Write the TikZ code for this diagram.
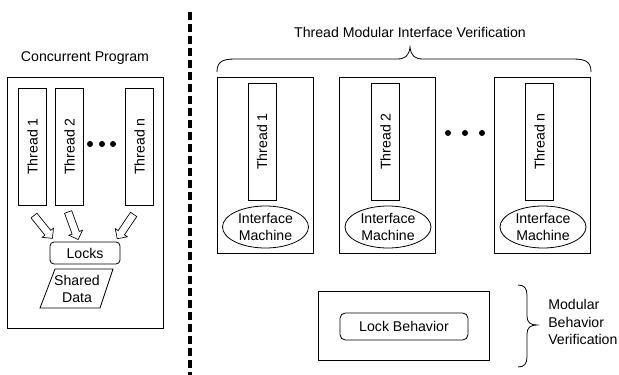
\documentclass[tikz,border=0pt]{standalone}
\usepackage{fontspec}
\setmainfont{Liberation Sans}
\usetikzlibrary{shapes.arrows,shapes.geometric,calc}
\begin{document}
\begin{tikzpicture}[x=0.75pt,y=-0.75pt,
  every node/.style={font=\fontsize{10.6}{13.3}\selectfont},
  box/.style={draw,line width=0.6pt,inner sep=0pt,rectangle},
  threadbox/.style={box,minimum width=20.5pt,minimum height=87.75pt},
  lbl/.style={inner sep=0pt},
  dotc/.style={fill,circle,inner sep=0pt,minimum size=4.5pt},
  blockarrow/.style={draw,single arrow,line width=0.5pt,minimum width=10.5pt,single arrow head extend=2.6pt,minimum height=22pt,inner sep=2.6pt},
  brc/.style={line width=0.6pt}
]
\useasboundingbox (0,0) rectangle (619,375);
% left side
\node[lbl] (cptitle) at (85,58) {Concurrent Program};
\node[box,minimum width=117pt,minimum height=188.25pt] (cp) at (85,202.5) {};
\node[threadbox] (t1) at (32.5,146.5) {};
\node[lbl,rotate=90] (t1l) at (t1) {Thread 1};
\node[threadbox] (t2) at (69.5,146.5) {};
\node[lbl,rotate=90] (t2l) at (t2) {Thread 2};
\node[threadbox] (tn) at (139.5,146.5) {};
\node[lbl,rotate=90] (tnl) at (tn) {Thread n};
\node[dotc] (d1) at (90,144) {};
\node[dotc] (d2) at (102,144) {};
\node[dotc] (d3) at (113,144) {};
\node[box,rounded corners=3pt,minimum width=52.5pt,minimum height=16.5pt] (locks) at (85,253) {Locks};
\node[blockarrow,rotate=-51] (a1) at (42,225.5) {};
\node[blockarrow,rotate=-70] (a2) at (72.5,224) {};
\node[blockarrow,rotate=-124] (an) at (126.5,225) {};
\coordinate (sdbl) at (40,308);
\coordinate (sdtl) at (55,269);
\coordinate (sdtr) at (113,269);
\coordinate (sdbr) at (100,308);
\draw[line width=0.6pt] (sdbl) -- (sdtl) -- (sdtr) -- (sdbr) -- cycle;
\node[lbl,align=center] (sd) at (77,289) {Shared\\Data};
% dashed separator
\coordinate (sepT) at (190,12);
\coordinate (sepB) at (190,378);
\draw[line width=2.4pt,dash pattern=on 5.8pt off 3.2pt] (sepT) -- (sepB);
% right side
\node[lbl] (tmtitle) at (410,32) {Thread Modular Interface Verification};
\coordinate (b1) at (217,72);
\coordinate (b2) at (591,72);
\draw[brc] (b1) .. controls (217,62) and (222,59) .. (235,59) -- (397,59)
  .. controls (405,59) and (409,56) .. (410,47)
  .. controls (411,56) and (415,59) .. (423,59) -- (573,59)
  .. controls (586,59) and (591,62) .. (b2);
\foreach \n/\cx/\tx/\tl in {1/265/262/Thread 1, 2/387.5/385.5/Thread 2, 3/542.5/539.5/Thread n}{
  \node[box,minimum width=72pt,minimum height=132pt] (m\n) at (\cx,165) {};
  \node[threadbox,minimum width=21pt] (mt\n) at (\tx,141.5) {};
  \node[lbl,rotate=90] (mtl\n) at (mt\n) {\tl};
  \node[draw,ellipse,line width=0.6pt,minimum width=64.5pt,minimum height=31.5pt,inner sep=0pt,align=center] (im\n) at (\cx+0.5,227) {Interface\\Machine};
}
\node[dotc] (e1) at (448,133) {};
\node[dotc] (e2) at (465,133) {};
\node[dotc] (e3) at (482,133) {};
\node[box,minimum width=128.25pt,minimum height=51.75pt] (lb) at (403.5,325.5) {};
\node[box,rounded corners=4pt,minimum width=96pt,minimum height=20.25pt] (lbi) at (404,326.5) {Lock Behavior};
\coordinate (r1) at (518,285);
\coordinate (r2) at (518,367);
\draw[brc] (r1) .. controls (524,285) and (527,288) .. (527,295) -- (527,316)
  .. controls (527,322) and (530,325) .. (537,325)
  .. controls (530,325) and (527,328) .. (527,334) -- (527,357)
  .. controls (527,364) and (524,367) .. (r2);
\node[lbl,align=left,anchor=west] (mbv) at (548,322) {Modular\\Behavior\\Verification};
\end{tikzpicture}
\end{document}
